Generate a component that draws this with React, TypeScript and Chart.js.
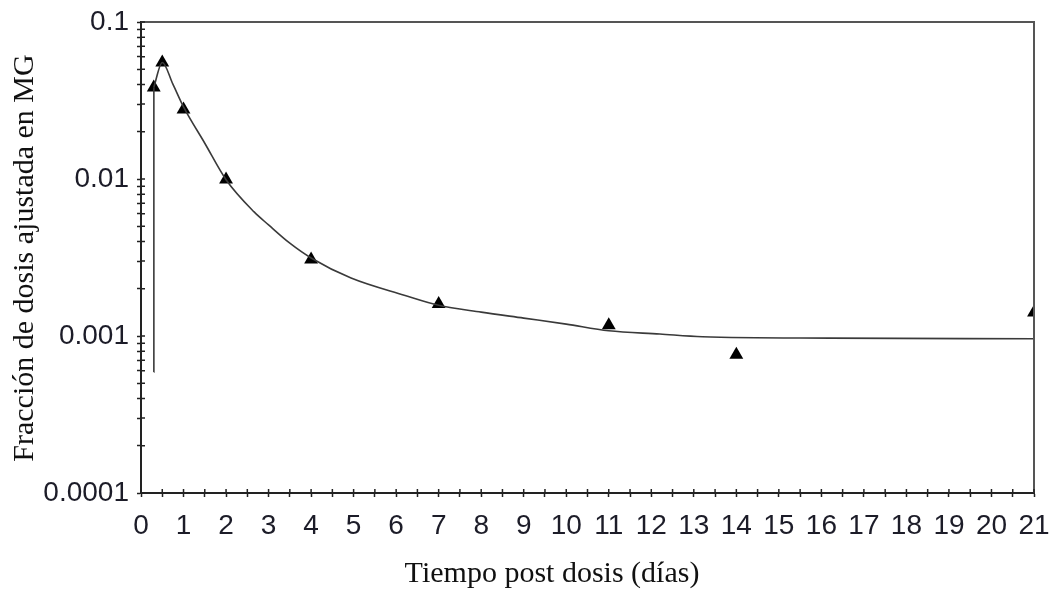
import React, { useEffect, useRef } from "react";
import { Chart, registerables } from "chart.js";

Chart.register(...registerables);

// Observed points (triangles)
const obsDays = [0.3, 0.5, 1, 2, 4, 7, 11, 14, 21];
const obsFraction = [0.0383, 0.0552, 0.0277, 0.00993, 0.00307, 0.0016, 0.00117, 0.00076, 0.00141];

// Initial rise of the fitted curve (near-vertical)
const riseDays = [0.3, 0.305, 0.3];
const riseFraction = [0.00059, 0.007, 0.0383];

// Fitted curve after the first sample
const fitDays = [0.3, 0.5, 0.75, 1, 1.5, 2, 2.66, 3, 3.5, 4, 4.94, 6.19, 7, 8, 9, 10, 11, 12.2, 13.2, 16.2, 21];
const fitFraction = [0.0383, 0.0552, 0.0402, 0.0288, 0.0169, 0.0099, 0.00617, 0.0051, 0.0039, 0.00314, 0.00234, 0.00182, 0.00157, 0.00142, 0.0013, 0.00119, 0.00108, 0.00103, 0.00099, 0.00097, 0.00096];

// Axis ticks
const xTickLabels = ["0","1","2","3","4","5","6","7","8","9","10","11","12","13","14","15","16","17","18","19","20","21"];
const yMajorTicks = [0.0001, 0.001, 0.01, 0.1];
const yTickLabels = ["0.0001", "0.001", "0.01", "0.1"];
const yMinorMultipliers = [2, 3, 4, 5, 6, 7, 8, 9];

const xTitle = "Tiempo post dosis (días)";
const yTitle = "Fracción de dosis ajustada en MG";

const TICK_FONT = "'Liberation Sans', Arial, sans-serif";
const TITLE_FONT = "'Liberation Serif', 'Times New Roman', serif";

const framePlugin = {
  id: "framePlugin",
  afterDraw(chart: any) {
    const { ctx, chartArea } = chart;
    const { left, right, top, bottom } = chartArea;
    ctx.save();
    ctx.strokeStyle = "#555";
    ctx.lineWidth = 2;
    ctx.beginPath();
    ctx.moveTo(left, top);
    ctx.lineTo(right, top);
    ctx.lineTo(right, bottom);
    ctx.stroke();
    ctx.strokeStyle = "#222";
    ctx.lineWidth = 1.5;
    ctx.beginPath();
    const xs = chart.scales.x;
    xs.ticks.forEach((t: any) => {
      const px = xs.getPixelForValue(t.value);
      ctx.moveTo(px, bottom);
      ctx.lineTo(px, bottom - 4);
    });
    const ys = chart.scales.y;
    ys.ticks.forEach((t: any) => {
      const py = ys.getPixelForValue(t.value);
      ctx.moveTo(left, py);
      ctx.lineTo(left + 4, py);
    });
    ctx.stroke();
    ctx.fillStyle = "#111";
    ctx.font = `30px ${TITLE_FONT}`;
    ctx.textAlign = "center";
    ctx.textBaseline = "alphabetic";
    ctx.fillText(xTitle, 552, 582);
    ctx.translate(33, 258);
    ctx.rotate(-Math.PI / 2);
    ctx.fillText(yTitle, 0, 0);
    ctx.restore();
  },
};

export default function App() {
  const canvasRef = useRef<HTMLCanvasElement | null>(null);

  useEffect(() => {
    if (!canvasRef.current) return;
    const chart = new Chart(canvasRef.current, {
      type: "scatter",
      data: {
        datasets: [
          {
            label: "Subida",
            data: riseDays.map((d, i) => ({ x: d, y: riseFraction[i] })),
            showLine: true,
            borderColor: "#3a3a3a",
            borderWidth: 1.6,
            pointRadius: 0,
            tension: 0,
            fill: false,
          },
          {
            label: "Ajuste",
            data: fitDays.map((d, i) => ({ x: d, y: fitFraction[i] })),
            showLine: true,
            borderColor: "#3a3a3a",
            borderWidth: 1.6,
            pointRadius: 0,
            cubicInterpolationMode: "monotone",
            fill: false,
          },
          {
            label: "Medido",
            data: obsDays.map((d, i) => ({ x: d, y: obsFraction[i] })),
            showLine: false,
            pointStyle: "triangle",
            pointRadius: 8,
            backgroundColor: "#000",
            borderColor: "#000",
            borderWidth: 0,
          },
        ],
      },
      options: {
        animation: false,
        responsive: false,
        layout: { padding: { top: 22, right: 21, left: 0, bottom: 0 } },
        plugins: {
          legend: { display: false },
          tooltip: { enabled: false },
        },
        scales: {
          x: {
            type: "linear",
            min: 0,
            max: 21,
            afterBuildTicks: (scale: any) => {
              const ticks: any[] = [];
              xTickLabels.forEach((_, i) => {
                ticks.push({ value: i });
                if (i < xTickLabels.length - 1) ticks.push({ value: i + 0.5 });
              });
              scale.ticks = ticks;
            },
            afterFit: (scale: any) => {
              scale.height = 109;
              scale.paddingLeft = 0;
              scale.paddingRight = 0;
            },
            border: { display: true, color: "#222", width: 2 },
            grid: {
              drawOnChartArea: false,
              drawTicks: true,
              tickLength: 4,
              tickWidth: 1.5,
              tickColor: "#222",
            },
            ticks: {
              autoSkip: false,
              maxRotation: 0,
              padding: 12,
              color: "#1c1c28",
              font: { family: TICK_FONT, size: 28 },
              callback: (value: any) => {
                const v = Number(value);
                return Number.isInteger(v) ? xTickLabels[v] : "";
              },
            },
            title: { display: false },
          },
          y: {
            type: "logarithmic",
            min: 0.0001,
            max: 0.1,
            afterBuildTicks: (scale: any) => {
              const ticks: any[] = [];
              yMajorTicks.forEach((m, i) => {
                ticks.push({ value: m, major: true });
                if (i < yMajorTicks.length - 1) {
                  yMinorMultipliers.forEach((k) => ticks.push({ value: m * k }));
                }
              });
              scale.ticks = ticks;
            },
            afterFit: (scale: any) => {
              scale.width = 141;
              scale.paddingTop = 0;
              scale.paddingBottom = 0;
            },
            border: { display: true, color: "#222", width: 2 },
            grid: {
              drawOnChartArea: false,
              drawTicks: true,
              tickLength: 4,
              tickWidth: 1.5,
              tickColor: "#222",
            },
            ticks: {
              autoSkip: false,
              padding: 8,
              color: "#1c1c28",
              font: { family: TICK_FONT, size: 28 },
              callback: (value: any) => {
                const v = Number(value);
                const idx = yMajorTicks.findIndex((m) => Math.abs(m - v) / m < 1e-6);
                return idx >= 0 ? yTickLabels[idx] : "";
              },
            },
            title: { display: false },
          },
        },
      },
      plugins: [framePlugin],
    });
    return () => chart.destroy();
  }, []);

  return (
    <div style={{ position: "absolute", left: 0, top: 0, width: 1055, height: 602, background: "#fff" }}>
      <canvas ref={canvasRef} width={1055} height={602} />
    </div>
  );
}
